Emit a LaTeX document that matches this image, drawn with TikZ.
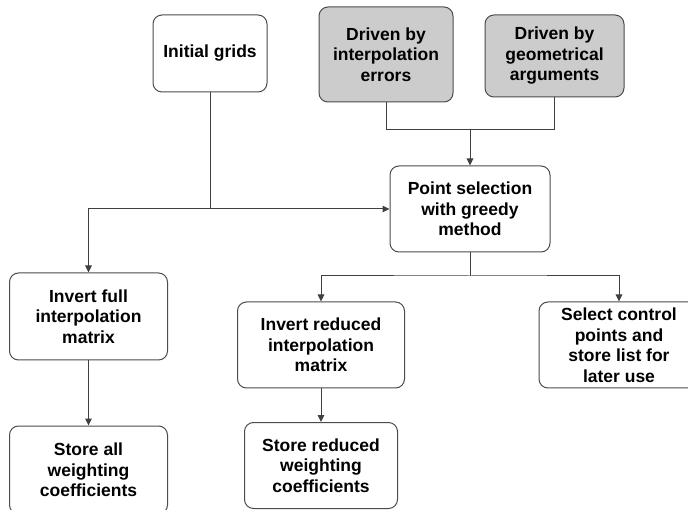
\documentclass[tikz,border=0pt]{standalone}
\usepackage{fontspec}
\setmainfont{Liberation Sans}
\usepackage{tikz}
\usetikzlibrary{positioning,calc,arrows.meta}

\tikzset{
  procbox/.style={draw=black!70, line width=1pt, rounded corners=9pt, fill=white,
    align=center, inner sep=0pt, font=\fontsize{17.5}{20.5}\selectfont\bfseries},
  drivebox/.style={procbox, fill=black!20},
  link/.style={draw=black!75, line width=1pt},
  arr/.style={link, -{Triangle[length=7pt,width=6.5pt]}},
  arrboth/.style={link, {Triangle[length=7pt,width=6.5pt]}-{Triangle[length=7pt,width=6.5pt]}}
}

\begin{document}
\begin{tikzpicture}[x=1pt,y=-1pt]
      \useasboundingbox (0,0) rectangle (688,510);
      \fill[white] (0,0) rectangle (688,510);
      % Inputs
      \node[procbox, minimum width=114pt, minimum height=77pt] (grids) at (210,53.5) {Initial grids};
      \node[drivebox, minimum width=134pt, minimum height=95pt] (errdrv) at (386,54.5) {Driven by\\interpolation\\errors};
      \node[drivebox, minimum width=139pt, minimum height=82pt] (geodrv) at (554.5,56) {Driven by\\geometrical\\arguments};
      % Greedy step
      \node[procbox, minimum width=160pt, minimum height=86pt] (select) at (470,209) {Point selection\\with greedy\\method};
      % Outputs
      \node[procbox, minimum width=158pt, minimum height=87pt] (invfull) at (88.5,316.5) {Invert full\\interpolation\\matrix};
      \node[procbox, minimum width=158pt, minimum height=88pt] (storeall) at (88.5,470) {Store all\\weighting\\coefficients};
      \node[procbox, minimum width=167pt, minimum height=86pt] (invred) at (321,345) {Invert reduced\\interpolation\\matrix};
      \node[procbox, minimum width=153pt, minimum height=86pt] (storered) at (321,465.5) {Store reduced\\weighting\\coefficients};
      \node[procbox, minimum width=160pt, minimum height=86pt] (ctrl) at (619,345) {Select control\\points and\\store list for\\later use};
      % Connectors
      \coordinate (drvbar) at (select.north |- 0,130);
      \draw[link] (errdrv.south) -- (errdrv.south |- drvbar) -- (geodrv.south |- drvbar) -- (geodrv.south);
      \draw[arr] (drvbar) -- (select.north);
      \draw[link] (grids.south) -- (grids.south |- select.west);
      \draw[arrboth] (invfull.north) |- (select.west);
      \coordinate (selbar) at (select.south |- 0,276);
      \draw[link] (select.south) -- (selbar);
      \draw[arrboth] (invred.north) |- (selbar) -| (ctrl.north);
      \draw[arr] (invfull) -- (storeall);
      \draw[arr] (invred) -- (storered);
    \end{tikzpicture}
\end{document}
